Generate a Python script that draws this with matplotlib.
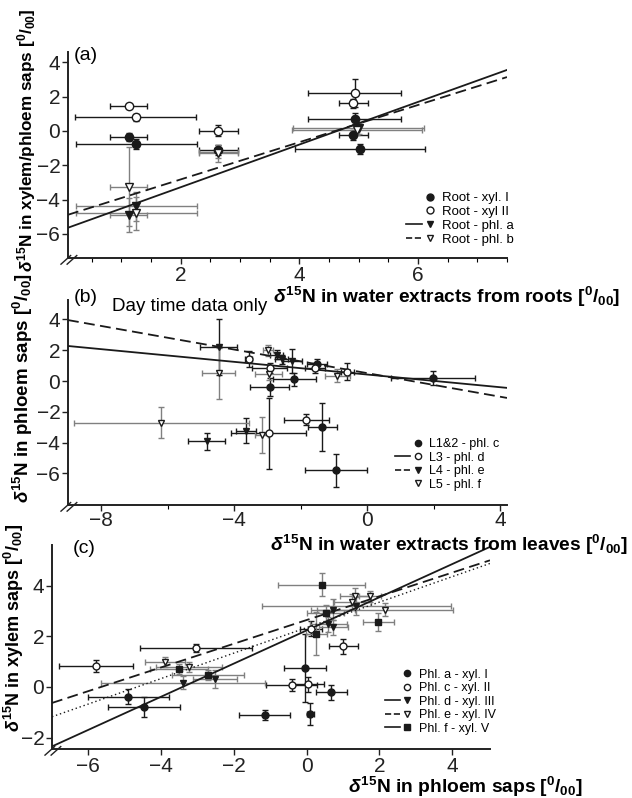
import matplotlib
matplotlib.use('Agg')
import matplotlib.pyplot as plt
from matplotlib.lines import Line2D
from matplotlib.legend_handler import HandlerTuple
import numpy as np

plt.rcParams['font.family'] = ['Liberation Sans', 'DejaVu Sans']
plt.rcParams['mathtext.fontset'] = 'custom'
plt.rcParams['mathtext.rm'] = 'Liberation Sans:bold'
plt.rcParams['mathtext.it'] = 'Liberation Sans:italic:bold'
plt.rcParams['mathtext.bf'] = 'Liberation Sans:bold'

# ---- panel (a): root water extracts vs xylem / phloem saps
a_xyl1_x = [1.12, 1.25, 2.63, 4.93, 4.91, 5.02]
a_xyl1_y = [-0.35, -0.77, -1.1, 0.72, -0.23, -1.05]
a_xyl1_xerr = [0.32, 1.02, 0.33, 0.78, 0.24, 1.1]
a_xyl1_yerr = [0.25, 0.3, 0.3, 0.3, 0.3, 0.3]

a_xyl2_x = [1.12, 1.24, 2.63, 4.93, 4.91]
a_xyl2_y = [1.45, 0.8, 0.02, 2.2, 1.6]
a_xyl2_xerr = [0.32, 1.02, 0.33, 0.78, 0.24]
a_xyl2_yerr = [0.12, 0.2, 0.3, 0.8, 0.25]

a_phla_x = [1.12, 1.25, 2.63, 5.0]
a_phla_y = [-4.9, -4.4, -1.2, 0.15]
a_phla_xerr = [0.32, 1.02, 0.33, 1.1]
a_phla_yerr = [1.0, 0.85, 0.4, 0.3]

a_phlb_x = [1.12, 1.25, 2.63, 4.97]
a_phlb_y = [-3.26, -4.8, -1.3, 0.05]
a_phlb_xerr = [0.32, 1.02, 0.33, 1.1]
a_phlb_yerr = [2.3, 0.95, 0.5, 0.3]

a_fit_solid = (1.242, -5.76)   # slope, intercept
a_fit_dashed = (1.084, -4.99)

# ---- panel (b): leaf water extracts vs phloem saps
b_c_x = [-2.94, -2.2, -1.5, 1.98, -1.35, -0.93]
b_c_y = [-0.4, 0.1, 1.1, 0.2, -3.0, -5.8]
b_c_xerr = [0.6, 0.65, 0.3, 1.27, 0.43, 0.93]
b_c_yerr = [0.6, 0.4, 0.3, 0.45, 1.55, 1.05]

b_d_x = [-3.57, -2.94, -1.56, -0.6, -1.83, -2.97]
b_d_y = [1.43, 0.85, 0.85, 0.6, -2.5, -3.4]
b_d_xerr = [0.1, 0.53, 0.3, 0.2, 0.67, 1.12]
b_d_yerr = [0.5, 0.35, 0.3, 0.55, 0.35, 2.3]

b_e_x = [-4.47, -2.73, -2.58, -2.25, -4.83, -3.66]
b_e_y = [2.2, 1.7, 1.4, 1.3, -3.9, -3.23]
b_e_xerr = [0.55, 0.2, 0.2, 0.3, 0.55, 0.3]
b_e_yerr = [1.8, 0.3, 0.3, 0.75, 0.55, 0.8]

b_f_x = [-4.47, -3.0, -2.97, -0.9, -6.19, -3.18]
b_f_y = [0.5, 2.0, 0.45, 0.35, -2.7, -3.5]
b_f_xerr = [0.5, 0.15, 0.4, 0.37, 2.62, 0.2]
b_f_yerr = [1.65, 0.35, 0.4, 0.4, 1.0, 1.15]

b_fit_solid = (-0.206, 0.42)
b_fit_dashed = (-0.383, 0.51)

# ---- panel (c): phloem saps vs xylem saps
c_1_x = [-4.9, -4.47, -1.15, -0.05, 0.1, 0.68]
c_1_y = [-0.39, -0.79, -1.1, 0.74, -1.07, -0.22]
c_1_xerr = [1.12, 0.99, 0.7, 0.57, 0.1, 0.42]
c_1_yerr = [0.3, 0.4, 0.2, 1.35, 0.45, 0.3]

c_2_x = [-5.8, -3.04, -0.41, 0.04, 1.01, 0.12]
c_2_y = [0.82, 1.53, 0.07, 0.1, 1.6, 2.3]
c_2_xerr = [1.02, 1.53, 0.7, 0.45, 0.4, 0.3]
c_2_yerr = [0.25, 0.15, 0.25, 0.3, 0.3, 0.3]

c_3_x = [-3.4, -2.52, 0.6, 0.73, 0.73, 1.37]
c_3_y = [0.17, 0.31, 2.47, 2.36, 3.05, 3.18]
c_3_xerr = [2.25, 0.6, 0.5, 0.4, 0.6, 2.6]
c_3_yerr = [0.25, 0.35, 0.3, 0.3, 0.4, 0.35]

c_4_x = [-3.9, -3.23, 1.26, 1.32, 1.73, 2.16]
c_4_y = [0.98, 0.78, 3.37, 3.6, 3.57, 3.05]
c_4_xerr = [0.55, 0.9, 0.5, 0.4, 0.3, 1.87]
c_4_yerr = [0.2, 0.2, 0.3, 0.3, 0.2, 0.25]

c_5_x = [-3.5, -2.71, 0.41, 0.27, 0.52, 1.97]
c_5_y = [0.7, 0.47, 4.04, 2.1, 2.9, 2.55]
c_5_xerr = [0.8, 1.0, 1.19, 0.3, 0.5, 0.43]
c_5_yerr = [0.2, 0.2, 0.45, 0.85, 0.35, 0.35]

c_fit_solid = (0.654, 2.23)
c_fit_dashed = (0.4675, 2.64)
c_fit_dotted = (0.5025, 2.34)

BLACK = '#1a1a1a'
GREY = '#808080'


def series(ax, x, y, xerr, yerr, marker, filled, ecolor, ms):
    ax.errorbar(x, y, xerr=xerr, yerr=yerr, fmt='none', ecolor=ecolor,
                elinewidth=1.0, capsize=2.5, capthick=1.0, zorder=2)
    ax.plot(x, y, ls='none', marker=marker, ms=ms, mec=BLACK, mew=1.0,
            mfc=BLACK if filled else 'white', zorder=4)


def fit(ax, coef, ls, lw=1.3):
    xs = np.array(ax.get_xlim())
    ax.plot(xs, coef[0] * xs + coef[1], color=BLACK, ls=ls, lw=lw, zorder=3)


def style_axes(ax):
    for s in ['top', 'right']:
        ax.spines[s].set_visible(False)
    for s in ['left', 'bottom']:
        ax.spines[s].set_linewidth(1.4)
        ax.spines[s].set_color('#222222')
    ax.tick_params(labelsize=15, length=4, width=1, pad=1.5, colors='#222222')
    ax.tick_params(which='minor', length=3, width=0.8)
    ax.patch.set_alpha(0)
    # axis break marks
    for d in [0.0, 0.014]:
        ax.plot([-0.016 + d, 0.006 + d], [-0.03, 0.012], transform=ax.transAxes,
                color='#222222', lw=1.0, clip_on=False)


def legend(ax, rows, anchor, fs, ms):
    blank = Line2D([], [], ls='none')
    handles, labels = [], []
    for lab, marker, filled, ls in rows:
        mk = Line2D([], [], ls='none', marker=marker, ms=ms, mec=BLACK, mew=1.0,
                    mfc=BLACK if filled else 'white')
        ln = Line2D([], [], color=BLACK, ls=ls, lw=1.2) if ls else blank
        handles.append((ln, mk))
        labels.append(lab)
    ax.legend(handles, labels, handler_map={tuple: HandlerTuple(ndivide=None, pad=0.0)},
              loc='lower left', bbox_to_anchor=anchor, frameon=False, fontsize=fs,
              handlelength=2.4, handletextpad=0.3, labelspacing=0.12,
              borderpad=0, borderaxespad=0)


unit = r'[$^{0}/_{00}$]'
dN = r'$\delta^{15}$N'

fig = plt.figure(figsize=(6.32, 7.98), dpi=100)

# (a)
ax = fig.add_axes([68 / 632, 1 - 258 / 798, 439 / 632, 206 / 798])
ax.set_xlim(0.1, 7.5)
ax.set_ylim(-7.4, 4.6)
series(ax, a_xyl1_x, a_xyl1_y, a_xyl1_xerr, a_xyl1_yerr, 'o', True, BLACK, 6)
series(ax, a_xyl2_x, a_xyl2_y, a_xyl2_xerr, a_xyl2_yerr, 'o', False, BLACK, 6)
series(ax, a_phla_x, a_phla_y, a_phla_xerr, a_phla_yerr, 'v', True, GREY, 6)
series(ax, a_phlb_x, a_phlb_y, a_phlb_xerr, a_phlb_yerr, 'v', False, GREY, 6)
fit(ax, a_fit_solid, '-')
fit(ax, a_fit_dashed, (0, (6, 3)))
ax.set_xticks([2, 4, 6])
ax.set_xticks(np.arange(0.5, 7.6, 0.5), minor=True)
ax.set_yticks([-6, -4, -2, 0, 2, 4])
style_axes(ax)
ax.text(0.012, 0.985, '(a)', transform=ax.transAxes, fontsize=14, va='center')
legend(ax, [('Root - xyl. I', 'o', True, None), ('Root - xyl II', 'o', False, None),
            ('Root - phl. a', 'v', True, '-'), ('Root - phl. b', 'v', False, '--')],
       (0.77, 0.06), 9.5, 5)
fig.text(620 / 632, 1 - 297 / 798, dN + ' in water extracts from roots ' + unit,
         ha='right', va='center', fontsize=13.8, fontweight='bold')
fig.text(27 / 632, 1 - 140 / 798, dN + ' in xylem/phloem saps ' + unit,
         rotation=90, ha='center', va='center', fontsize=12.3, fontweight='bold')

# (b)
ax = fig.add_axes([68 / 632, 1 - 505 / 798, 439 / 632, 205 / 798])
ax.set_xlim(-9, 4.2)
ax.set_ylim(-8.05, 5.26)
series(ax, b_c_x, b_c_y, b_c_xerr, b_c_yerr, 'o', True, BLACK, 5)
series(ax, b_d_x, b_d_y, b_d_xerr, b_d_yerr, 'o', False, BLACK, 5)
series(ax, b_e_x, b_e_y, b_e_xerr, b_e_yerr, 'v', True, BLACK, 5)
series(ax, b_f_x, b_f_y, b_f_xerr, b_f_yerr, 'v', False, GREY, 5)
fit(ax, b_fit_solid, '-')
fit(ax, b_fit_dashed, (0, (6, 3)))
ax.set_xticks([-8, -4, 0, 4])
ax.set_xticks([-6, -2, 2], minor=True)
ax.set_yticks([-6, -4, -2, 0, 2, 4])
style_axes(ax)
ax.tick_params(axis='x', pad=0.5)
ax.text(0.012, 1.01, '(b)', transform=ax.transAxes, fontsize=14, va='center')
ax.text(0.1, 0.966, 'Day time data only', transform=ax.transAxes, fontsize=13.5,
        va='center')
legend(ax, [('L1&2 - phl. c', 'o', True, None), ('L3 - phl. d', 'o', False, '-'),
            ('L4 - phl. e', 'v', True, '--'), ('L5 - phl. f', 'v', False, None)],
       (0.745, 0.07), 9, 4.5)
fig.text(628 / 632, 1 - 545 / 798, dN + ' in water extracts from leaves ' + unit,
         ha='right', va='center', fontsize=13.8, fontweight='bold')
fig.text(23 / 632, 1 - 388 / 798, dN + ' in phloem saps ' + unit,
         rotation=90, ha='center', va='center', fontsize=13.5, fontweight='bold')

# (c)
ax = fig.add_axes([52 / 632, 1 - 749 / 798, 438 / 632, 204 / 798])
ax.set_xlim(-7, 5.04)
ax.set_ylim(-2.45, 5.6)
series(ax, c_1_x, c_1_y, c_1_xerr, c_1_yerr, 'o', True, BLACK, 5)
series(ax, c_2_x, c_2_y, c_2_xerr, c_2_yerr, 'o', False, BLACK, 5)
series(ax, c_3_x, c_3_y, c_3_xerr, c_3_yerr, 'v', True, GREY, 5)
series(ax, c_4_x, c_4_y, c_4_xerr, c_4_yerr, 'v', False, GREY, 5)
series(ax, c_5_x, c_5_y, c_5_xerr, c_5_yerr, 's', True, GREY, 5)
fit(ax, c_fit_solid, '-')
fit(ax, c_fit_dashed, (0, (6, 3)))
fit(ax, c_fit_dotted, (0, (1, 2)), lw=1.0)
ax.set_xticks([-6, -4, -2, 0, 2, 4])
ax.set_yticks([-2, 0, 2, 4])
style_axes(ax)
ax.text(0.048, 0.985, '(c)', transform=ax.transAxes, fontsize=14, va='center')
legend(ax, [('Phl. a - xyl. I', 'o', True, None), ('Phl. c - xyl. II', 'o', False, None),
            ('Phl. d - xyl. III', 'v', True, '-'), ('Phl. e - xyl. IV', 'v', False, '--'),
            ('Phl. f - xyl. V', 's', True, '-')],
       (0.76, 0.07), 9, 4.5)
fig.text(465 / 632, 1 - 787 / 798, dN + ' in phloem saps ' + unit,
         ha='center', va='center', fontsize=13.8, fontweight='bold')
fig.text(14 / 632, 1 - 628 / 798, dN + ' in xylem saps ' + unit,
         rotation=90, ha='center', va='center', fontsize=13, fontweight='bold')

fig.savefig('out.png', dpi=100)
